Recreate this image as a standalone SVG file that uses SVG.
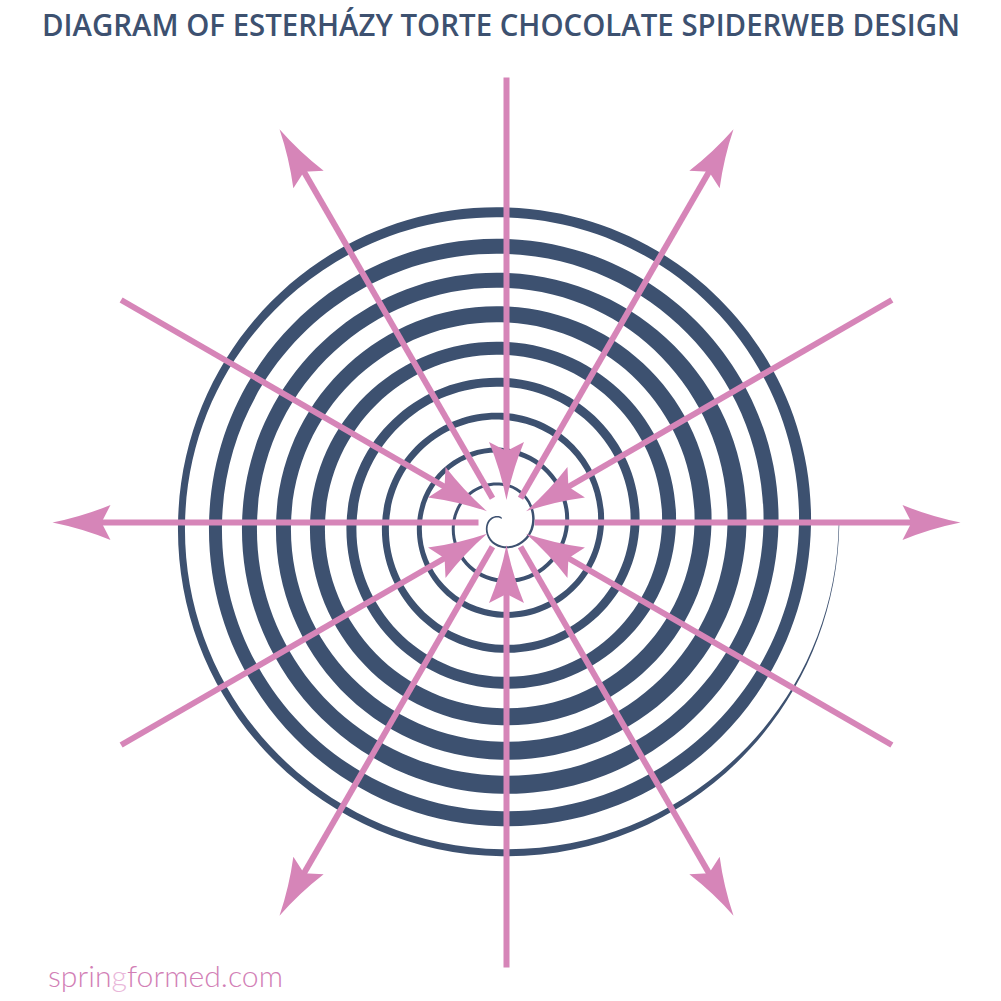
<svg xmlns="http://www.w3.org/2000/svg" width="1001" height="1001" viewBox="0 0 1001 1001">
<style>
.title{font-family:"Open Sans","Liberation Sans",sans-serif;font-weight:600;font-size:30px;fill:#3d5170}
.wm{font-family:Lato,"Open Sans","Liberation Sans",sans-serif;font-weight:300;font-size:29px;fill:#d27fb6}
.ray{stroke:#d685b8;stroke-width:6;fill:none;stroke-linecap:butt}
</style>
<defs>
<marker id="ah" viewBox="-10 -18 60 36" markerWidth="60" markerHeight="36" refX="5" refY="0" orient="auto" markerUnits="userSpaceOnUse">
<path d="M49,0 Q19,-6 -9,-17.5 L0,0 L-9,17.5 Q19,6 49,0 Z" fill="#d685b8"/>
</marker>
</defs>
<rect width="1001" height="1001" fill="#ffffff"/>
<text class="title" x="501" y="36" text-anchor="middle" textLength="918" lengthAdjust="spacingAndGlyphs">DIAGRAM OF ESTERHÁZY TORTE CHOCOLATE SPIDERWEB DESIGN</text>
<g id="spiral" transform="translate(501.75,524)">
<path fill="#3d5170" d="M337.55,0
C334.72,186.43 183.5,335.08 0,332.25
C-183.5,329.42 -326.58,178.81 -323.75,0
C-320.92,-178.81 -174.94,-319.58 0,-316.75
C174.94,-313.92 312.08,-170.8 309.25,0
C306.42,170.8 166.93,305.08 0,302.25
C-166.93,299.42 -295.58,161.69 -292.75,0
C-289.92,-161.69 -157.54,-288.08 0,-285.25
C157.54,-282.42 279.58,-152.85 276.75,0
C273.92,152.85 148.98,272.58 0,269.75
C-148.98,266.92 -262.58,143.46 -259.75,0
C-256.92,-143.46 -138.77,-254.08 0,-251.25
C138.77,-248.42 247.58,-135.18 244.75,0
C241.92,135.18 130.2,238.58 0,235.75
C-130.2,232.92 -228.58,124.68 -225.75,0
C-222.92,-124.68 -120.26,-220.58 0,-217.75
C120.26,-214.92 212.58,-115.85 209.75,0
C206.92,115.85 111.15,204.08 0,201.25
C-111.15,198.42 -194.58,105.9 -191.75,0
C-188.92,-105.9 -100.66,-185.08 0,-182.25
C100.66,-179.42 177.08,-96.24 174.25,0
C171.42,96.24 90.99,167.58 0,164.75
C-90.99,161.92 -158.08,85.74 -155.25,0
C-152.42,-85.74 -80.77,-149.08 0,-146.25
C80.77,-143.42 140.58,-76.08 137.75,0
C134.92,76.08 71.11,131.58 0,128.75
C-71.11,125.92 -122.58,66.14 -119.75,0
C-116.92,-66.14 -61.44,-114.08 0,-111.25
C61.44,-108.42 105.08,-56.47 102.25,0
C99.42,56.47 51.78,96.58 0,93.75
C-51.78,90.92 -87.58,46.81 -84.75,0
C-81.92,-46.81 -42.11,-79.08 0,-76.25
C42.11,-73.42 70.08,-37.14 67.25,0
C64.42,37.14 32.45,61.58 0,58.75
C-32.45,55.92 -52.58,27.48 -49.75,0
C-46.92,-27.48 -22.78,-44.08 0,-41.25
C22.78,-38.42 35.33,-17.95 32.5,0
C29.67,17.95 13.12,26.58 0,23.75
C-13.12,20.92 -17.98,8.37 -15.15,0
C-12.32,-8.37 -3.59,-9.33 0,-6.5
L0,-5
C-2.76,-7.83 -10.52,-7.37 -13.35,0
C-16.18,7.37 -12.01,18.92 0,21.75
C12.01,24.58 27.17,16.57 30,0
C32.83,-16.57 21.13,-35.42 0,-38.25
C-21.13,-41.08 -43.92,-25.82 -46.75,0
C-49.58,25.82 -30.24,51.92 0,54.75
C30.24,57.58 60.42,34.93 63.25,0
C66.08,-34.93 39.35,-68.42 0,-71.25
C-39.35,-74.08 -76.92,-44.05 -79.75,0
C-82.58,44.05 -48.46,84.92 0,87.75
C48.46,90.58 93.42,53.16 96.25,0
C99.08,-53.16 57.58,-101.42 0,-104.25
C-57.58,-107.08 -109.92,-62.27 -112.75,0
C-115.58,62.27 -66.69,117.92 0,120.75
C66.69,123.58 125.92,71.11 128.75,0
C131.58,-71.11 75.8,-134.42 0,-137.25
C-75.8,-140.08 -142.42,-80.22 -145.25,0
C-148.08,80.22 -84.36,149.92 0,152.75
C84.36,155.58 157.42,88.51 160.25,0
C163.08,-88.51 93.48,-166.42 0,-169.25
C-93.48,-172.08 -173.92,-97.62 -176.75,0
C-179.58,97.62 -101.76,181.42 0,184.25
C101.76,187.08 189.92,106.46 192.75,0
C195.58,-106.46 111.43,-198.92 0,-201.75
C-111.43,-204.58 -207.92,-116.4 -210.75,0
C-213.58,116.4 -120.26,214.92 0,217.75
C120.26,220.58 222.92,124.68 225.75,0
C228.58,-124.68 130.48,-233.42 0,-236.25
C-130.48,-239.08 -241.92,-135.18 -244.75,0
C-247.58,135.18 -139.04,248.92 0,251.75
C139.04,254.58 258.92,144.56 261.75,0
C264.58,-144.56 149.26,-267.42 0,-270.25
C-149.26,-273.08 -276.92,-154.51 -279.75,0
C-282.58,154.51 -158.65,284.42 0,287.25
C158.65,290.08 294.42,164.17 297.25,0
C300.08,-164.17 169.42,-303.92 0,-306.75
C-169.42,-309.58 -313.92,-174.94 -316.75,0
C-319.58,174.94 -179.64,322.42 0,325.25
C179.64,328.08 334.12,186.1 336.95,0 Z"/>
</g>
<g id="arrows" class="ray">
<line class="ray" x1="534.5" y1="522.5" x2="916.5" y2="522.5" marker-end="url(#ah)"/>
<line class="ray" x1="520.5" y1="546.75" x2="711.5" y2="877.57" marker-end="url(#ah)"/>
<line class="ray" x1="492.5" y1="546.75" x2="301.5" y2="877.57" marker-end="url(#ah)"/>
<line class="ray" x1="478.5" y1="522.5" x2="96.5" y2="522.5" marker-end="url(#ah)"/>
<line class="ray" x1="492.5" y1="498.25" x2="301.5" y2="167.43" marker-end="url(#ah)"/>
<line class="ray" x1="520.5" y1="498.25" x2="711.5" y2="167.43" marker-end="url(#ah)"/>
<line class="ray" x1="891.88" y1="745" x2="564.09" y2="555.75" marker-end="url(#ah)"/>
<line class="ray" x1="506.5" y1="967.5" x2="506.5" y2="589" marker-end="url(#ah)"/>
<line class="ray" x1="121.12" y1="745" x2="448.91" y2="555.75" marker-end="url(#ah)"/>
<line class="ray" x1="121.12" y1="300" x2="448.91" y2="489.25" marker-end="url(#ah)"/>
<line class="ray" x1="506.5" y1="77.5" x2="506.5" y2="456" marker-end="url(#ah)"/>
<line class="ray" x1="891.88" y1="300" x2="564.09" y2="489.25" marker-end="url(#ah)"/>
</g>
<text class="wm" x="48" y="987" textLength="235" lengthAdjust="spacingAndGlyphs">sprin<tspan fill="#e9b6d9">g</tspan>formed.com</text>
</svg>
